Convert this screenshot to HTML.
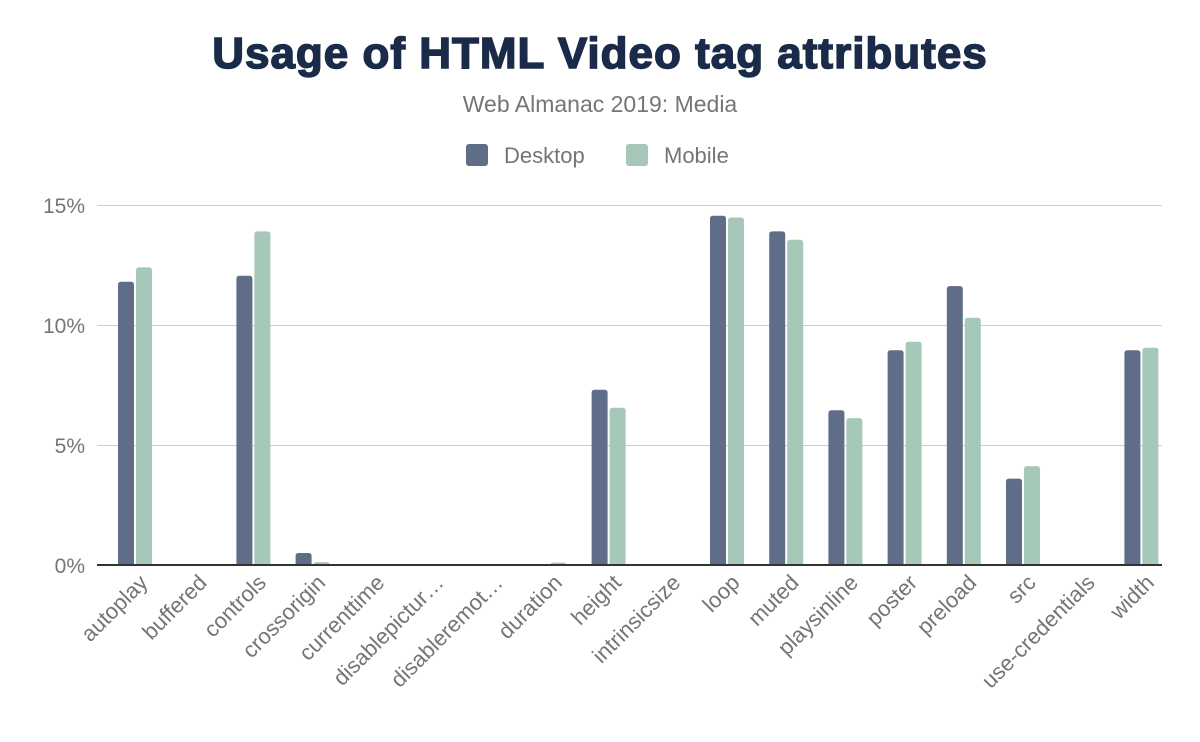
<!DOCTYPE html>
<html><head><meta charset="utf-8"><style>
html,body{margin:0;padding:0;background:#fff;}
svg{display:block;font-family:"Liberation Sans",sans-serif;}
</style></head><body>
<svg width="1200" height="742" viewBox="0 0 1200 742">
<text x="600" y="68" text-anchor="middle" font-size="44" font-weight="900" fill="#1a2b49" style="letter-spacing:1px" stroke="#1a2b49" stroke-width="1.5">Usage of HTML Video tag attributes</text>
<text x="600" y="112" text-anchor="middle" font-size="23" fill="#757575">Web Almanac 2019: Media</text>
<rect x="466" y="144" width="22" height="22" rx="3" fill="#5f6d89"/>
<text x="504" y="163" font-size="22" fill="#757575">Desktop</text>
<rect x="626" y="144" width="22" height="22" rx="3" fill="#a6c8b8"/>
<text x="664" y="163" font-size="22" fill="#757575">Mobile</text>
<g stroke="#cccccc" stroke-width="1">
<line x1="97" y1="205.5" x2="1162" y2="205.5"/>
<line x1="97" y1="325.5" x2="1162" y2="325.5"/>
<line x1="97" y1="445.5" x2="1162" y2="445.5"/>
</g>
<g font-size="21" fill="#757575" text-anchor="end">
<text x="85" y="213">15%</text>
<text x="85" y="333">10%</text>
<text x="85" y="453">5%</text>
<text x="85" y="573">0%</text>
</g>
<g id="bars"></g>
<line x1="97" y1="565" x2="1162" y2="565" stroke="#333" stroke-width="2"/>
<g id="labels" font-size="22" fill="#757575" text-anchor="end"></g>
</svg>
<script>
var d=[["autoplay",11.8,12.4],["buffered",0,0],["controls",12.05,13.9],["crossorigin",0.5,0.12],["currenttime",0.04,0.04],["disablepictur…",0.03,0.03],["disableremot…",0.03,0.03],["duration",0.04,0.1],["height",7.3,6.55],["intrinsicsize",0,0],["loop",14.55,14.48],["muted",13.9,13.55],["playsinline",6.45,6.12],["poster",8.95,9.3],["preload",11.62,10.3],["src",3.6,4.12],["use-credentials",0,0],["width",8.95,9.05]];
var ns="http://www.w3.org/2000/svg",b=document.getElementById("bars"),l=document.getElementById("labels");
function bar(x,v,c){if(v<=0)return;var h=v*24;var p=document.createElementNS(ns,"path");var r=Math.min(3,h);var y=565-h;
p.setAttribute("d","M"+x+",565V"+(y+r)+"Q"+x+","+y+" "+(x+r)+","+y+"H"+(x+16-r)+"Q"+(x+16)+","+y+" "+(x+16)+","+(y+r)+"V565Z");p.setAttribute("fill",c);b.appendChild(p);}
d.forEach(function(e,i){var c=135+59.2*i;bar(c-17,e[1],"#5f6d89");bar(c+1,e[2],"#a6c8b8");
var t=document.createElementNS(ns,"text");var tx=c+14,ty=584;t.setAttribute("x",tx);t.setAttribute("y",ty);t.setAttribute("transform","rotate(-45 "+tx+" "+ty+")");t.textContent=e[0];l.appendChild(t);});
</script>
</body></html>
